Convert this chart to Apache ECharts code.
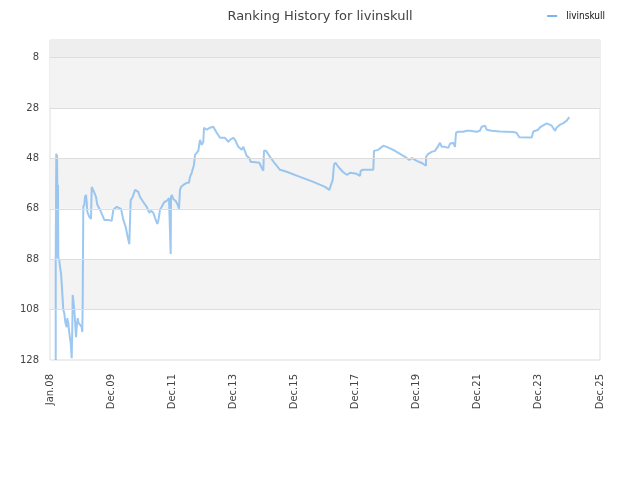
<!DOCTYPE html>
<html>
<head>
<meta charset="utf-8">
<script src="https://cdn.jsdelivr.net/npm/echarts@6/dist/echarts.min.js"></script>
<style>html,body{margin:0;padding:0;background:#fff}#c{width:640px;height:480px}</style>
</head>
<body>
<div id="c"></div>
<script>
// x values: months since Dec 2007
const tickLabels = ['Jan.08','Dec.09','Dec.11','Dec.13','Dec.15','Dec.17','Dec.19','Dec.21','Dec.23','Dec.25'];
const yTicks = [8, 28, 48, 68, 88, 108, 128];
const seriesName = 'livinskull';
const months = [2.24,2.24,2.47,2.63,2.75,2.87,2.98,3.14,3.26,3.65,3.93,4.32,4.59,4.99,5.22,5.62,6.01,6.56,6.79,7.19,7.58,8.13,8.52,8.76,8.91,9.15,9.54,9.82,10.21,10.49,10.88,11.11,11.78,12.45,12.68,12.84,13.08,13.47,13.75,14.14,14.41,14.65,15.43,16.10,16.38,16.77,17.28,18.07,18.58,19.64,20.70,21.32,22.9,23.56,24.23,24.55,24.86,26.19,26.82,27.88,28.79,29.73,30.51,31.14,31.69,32.48,33.38,34.05,34.68,35.35,36.64,37.98,39.0,39.67,40.57,41.24,42.14,42.53,43.2,43.87,44.89,45.83,46.73,47.32,47.40,47.52,47.79,48.42,49.36,50.15,50.66,51.05,51.45,52.35,53.69,54.59,54.98,55.65,56.28,56.55,56.95,58.24,58.91,59.58,60.2,60.48,61.54,62.84,64.13,65.47,66.76,68.72,70.02,70.69,71.99,72.65,73.95,75.28,75.91,77.25,78.27,78.82,79.84,82.2,83.14,83.77,84.04,84.83,86.4,88.36,90.33,92.96,98.18,103.4,108.0,109.7,110.36,111.03,111.53,112.05,112.83,113.22,114.95,116.52,117.82,120.45,121.74,122.02,123.04,126.97,127.24,128.93,129.87,130.89,132.23,134.82,137.45,140.08,141.1,142.05,144.01,145.97,147.66,147.66,148.56,149.9,151.2,152.5,153.16,153.83,155.12,156.42,157.09,158.38,159.05,159.45,160.35,162.31,163.65,164.94,167.58,168.87,169.54,170.84,171.5,173.46,176.7,181.95,183.2,184.3,189.17,189.8,191.76,192.43,193.73,195.06,195.69,197.03,197.66,198.33,198.99,200.29,201.59,202.92,203.94];
const ranks = [128,88,46,87.5,46.6,57.7,87.5,58.5,87.5,88.3,91.1,93.5,97.5,104.2,108.2,109.4,113,115,111.4,113.4,117.3,121.3,127.3,115,102.2,104.2,108.2,112.2,118.9,115,111.4,113,113.4,115,116.9,105.4,67.2,66.4,63.3,62.5,65.3,69.2,71.2,72,59.3,59.7,61.3,63.3,66.4,68.4,70.8,72.4,72.4,72,72.8,73.2,68.4,67.2,67.1,68,72.4,75.2,79.2,82,64.5,63.3,60.5,60,61.3,63.3,65.3,67.2,69.6,68.8,69.6,71.6,74,72.8,68.4,67.2,65.3,64.9,63.7,63.3,85.9,63.3,62.5,64.1,64.9,66.4,68,60.5,59.3,58.5,57.7,57.7,55.3,53.7,53.7,50.5,46.6,45,40.6,42.6,41.4,35.8,36.6,35.8,35.4,37.8,39.8,39.8,41.4,40.6,39.8,40.6,43.4,44.6,43.4,47,47.8,49.4,49.4,49.7,51.7,52.9,45,45,47.4,50.1,52.5,53.3,55.3,57.3,59.3,60.5,58.5,56.5,50.5,49.7,49.4,51.3,53.3,54.5,53.7,54.1,54.9,52.9,52.5,52.5,45,44.6,43.8,43,43.4,44.6,46.2,47.8,48.6,47.8,49,49.8,50.9,47.4,46.2,45.4,45,43,41.8,43.4,43.4,43.8,42.2,41.8,43.4,37.8,37.4,37.4,37,37,37.4,37,35.4,35,36.6,37,37.3,37.5,37.8,39.6,39.7,37.3,36.6,35.7,34.9,34.1,34.6,35,36,37,35.7,34.6,34,33,31.6];
const rankMin = 1, rankMax = 128;

const FONT = 'DejaVu Sans';
const bands = [[{yAxis: rankMin, itemStyle: {color: '#eeeeee'}}, {yAxis: yTicks[0]}]];
for (let i = 0; i + 1 < yTicks.length; i += 2) {
  bands.push([{yAxis: yTicks[i], itemStyle: {color: '#f3f3f3'}}, {yAxis: yTicks[i + 1]}]);
}
const chart = echarts.init(document.getElementById('c'), null, {renderer: 'canvas'});
chart.setOption({
  animation: false,
  title: {
    text: 'Ranking History for ' + seriesName,
    left: 'center', top: 5,
    textStyle: {fontFamily: FONT, fontSize: 13, fontWeight: 'normal', color: '#444'}
  },
  legend: {
    data: [seriesName], right: 30, top: 6,
    icon: 'rect', itemWidth: 10, itemHeight: 2, itemGap: 5,
    textStyle: {fontFamily: "'DejaVu Sans Condensed', 'Liberation Sans', sans-serif", fontSize: 10, color: '#111', padding: [0, 0, 0, 4]}
  },
  grid: {left: 50, right: 40, top: 40, bottom: 120, show: true, borderColor: '#dddddd', borderWidth: 1},
  xAxis: {
    type: 'value', min: 0, max: 216, interval: 24,
    axisLine: {show: false}, axisTick: {show: false}, splitLine: {show: false},
    axisLabel: {
      rotate: 90, margin: 14, fontFamily: FONT, fontSize: 10, color: '#444',
      formatter: v => tickLabels[Math.round(v / 24)] || ''
    }
  },
  yAxis: {
    type: 'value', inverse: true, min: rankMin, max: rankMax,
    axisLine: {show: false}, axisTick: {show: false},
    axisLabel: {margin: 11, fontFamily: FONT, fontSize: 10, color: '#444', customValues: yTicks},
    splitLine: {show: false}, splitArea: {show: false}
  },
  series: [{
    name: 'grid-bands', type: 'line', data: [], z: 1, silent: true,
    markArea: {silent: true, data: bands},
    markLine: {silent: true, symbol: 'none', label: {show: false},
      lineStyle: {color: '#dddddd', width: 1, type: 'solid'},
      data: yTicks.slice(0, -1).map(v => ({yAxis: v}))}
  }, {
    name: seriesName, type: 'line', showSymbol: false, symbol: 'none', z: 3,
    data: months.map((m, i) => [m, ranks[i]]),
    lineStyle: {color: '#7cb5ec', width: 2, opacity: 0.75},
    itemStyle: {color: '#7cb5ec'}
  }]
});
</script>
</body>
</html>
